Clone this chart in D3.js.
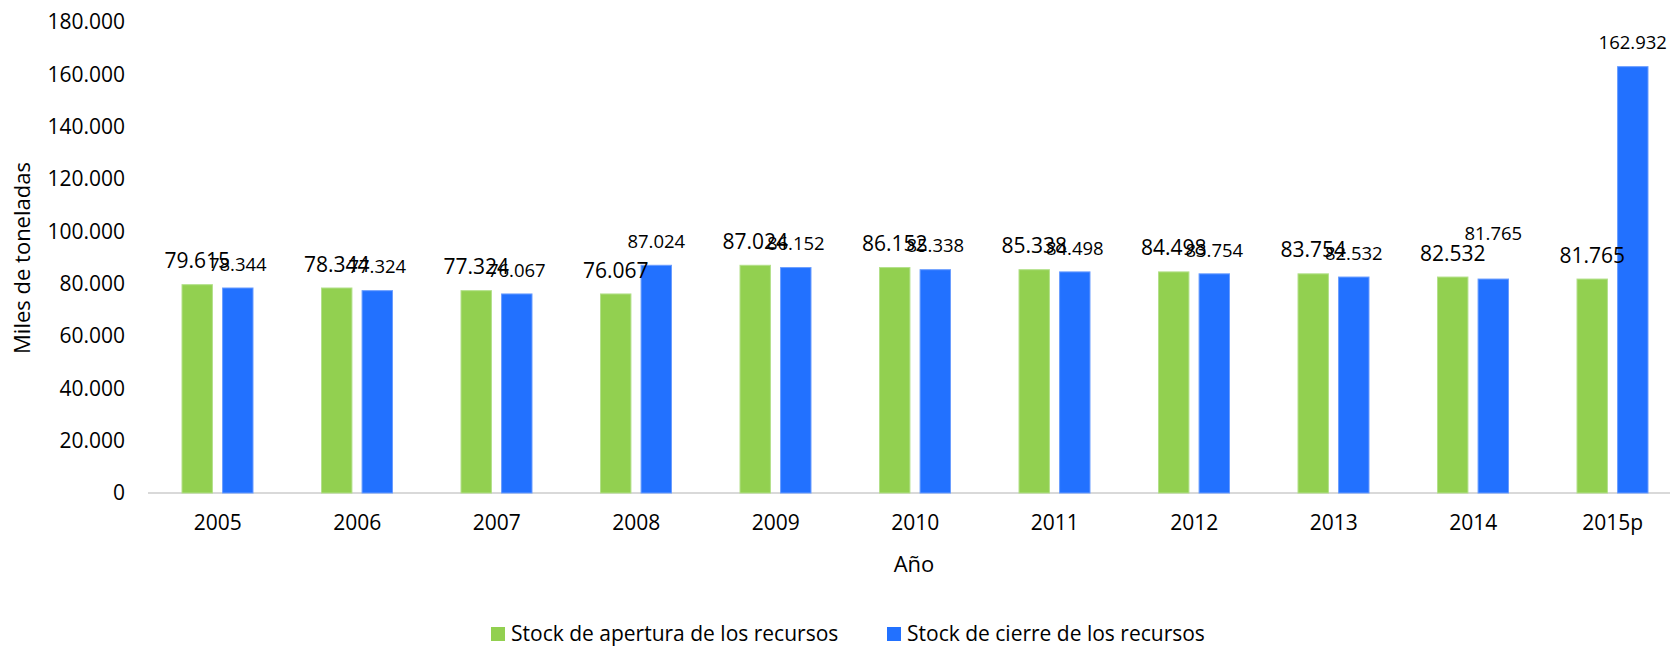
<!doctype html>
<html>
<head>
<meta charset="utf-8"/>
<title>Stock de recursos</title>
<script src="https://d3js.org/d3.v7.min.js"></script>
<style>
body { margin: 0; background: #fff; }
text { font-family: "Open Sans", sans-serif; fill: #000; }
</style>
</head>
<body>
<svg id="chart"></svg>
<script>
// values (miles de toneladas)
const years = ['2005', '2006', '2007', '2008', '2009', '2010', '2011', '2012', '2013', '2014', '2015p'];
const apertura = [79615, 78344, 77324, 76067, 87024, 86152, 85338, 84498, 83754, 82532, 81765];
const cierre = [78344, 77324, 76067, 87024, 86152, 85338, 84498, 83754, 82532, 81765, 162932];
const yTicks = [0, 20000, 40000, 60000, 80000, 100000, 120000, 140000, 160000, 180000];
const seriesNames = ['Stock de apertura de los recursos', 'Stock de cierre de los recursos'];
const colors = ['#92d050', '#2271ff'];

const width = 1670, height = 646;
const plotLeft = 148, base = 493, plotTop = 22;

// spanish number format: 79.615
const es = d3.formatLocale({decimal: ',', thousands: '.', grouping: [3], currency: ['', '']});
const fmt = es.format(',');

const svg = d3.select('#chart')
    .attr('width', width)
    .attr('height', height);

svg.append('rect').attr('width', width).attr('height', height).attr('fill', '#fff');

const x = d3.scaleBand()
    .domain(years)
    .range([plotLeft, plotLeft + 139.5 * years.length]);

const x1 = d3.scaleBand()
    .domain([0, 1])
    .range([34, 105])
    .paddingInner(0.25);

const y = d3.scaleLinear()
    .domain([0, 180000])
    .range([base, plotTop]);

// y axis labels only, no line
const yAxis = svg.append('g')
    .attr('transform', 'translate(' + plotLeft + ',0)')
    .call(d3.axisLeft(y).tickValues(yTicks).tickSize(0).tickPadding(23).tickFormat(fmt));
yAxis.select('.domain').remove();
yAxis.selectAll('text')
    .style('font-family', '"Open Sans", sans-serif')
    .style('font-size', '21px')
    .attr('fill', '#000');

// x axis
const xAxis = svg.append('g')
    .attr('transform', 'translate(0,' + base + ')')
    .call(d3.axisBottom(x).tickSize(0).tickPadding(22));
xAxis.select('.domain').remove();
xAxis.selectAll('text')
    .style('font-family', '"Open Sans", sans-serif')
    .style('font-size', '21px')
    .attr('fill', '#000');

svg.append('line')
    .attr('x1', plotLeft).attr('x2', width)
    .attr('y1', base).attr('y2', base)
    .style('stroke', '#d9d9d9')
    .style('stroke-width', 2);

const rows = years.map((yr, i) => ({year: yr, vals: [apertura[i], cierre[i]]}));

const groups = svg.selectAll('g.year')
    .data(rows)
    .enter().append('g')
    .attr('class', 'year')
    .attr('transform', d => 'translate(' + x(d.year) + ',0)');

groups.selectAll('rect')
    .data(d => d.vals.map((v, k) => ({k: k, v: v})))
    .enter().append('rect')
    .attr('x', d => x1(d.k))
    .attr('y', d => y(d.v))
    .attr('width', x1.bandwidth())
    .attr('height', d => base - y(d.v))
    .attr('fill', d => colors[d.k])
    .style('stroke', d => d.k == 0 ? '#b3e08a' : '#6a9dff')
    .style('stroke-width', 1);

// the 2014 closing label was moved up by hand in the original
const lift = {'2014': 22};
const labelSize = [21, 18.5];

groups.each(function(d) {
    const g = d3.select(this);
    d.vals.forEach((v, k) => {
        const extra = k == 1 ? (lift[d.year] || 0) : 0;
        g.append('text')
            .attr('x', x1(k) + x1.bandwidth() / 2)
            .attr('y', y(v) - 24 - extra + labelSize[k] * 0.36)
            .attr('text-anchor', 'middle')
            .style('font-size', labelSize[k] + 'px')
            .text(fmt(v));
    });
});

// axis titles
svg.append('text')
    .attr('transform', 'translate(30,258) rotate(-90)')
    .attr('text-anchor', 'middle')
    .style('font-size', '22px')
    .text('Miles de toneladas');

svg.append('text')
    .attr('x', 914)
    .attr('y', 572)
    .attr('text-anchor', 'middle')
    .style('font-size', '22px')
    .text('Año');

// legend
const legendX = [491, 887];
const legend = svg.selectAll('g.legend')
    .data(seriesNames)
    .enter().append('g')
    .attr('class', 'legend')
    .attr('transform', (d, i) => 'translate(' + legendX[i] + ',627)');

legend.append('rect')
    .attr('width', 14)
    .attr('height', 14)
    .attr('fill', (d, i) => colors[i]);

legend.append('text')
    .attr('x', 20)
    .attr('y', 14)
    .style('font-size', '21px')
    .text(d => d);
</script>
</body>
</html>
